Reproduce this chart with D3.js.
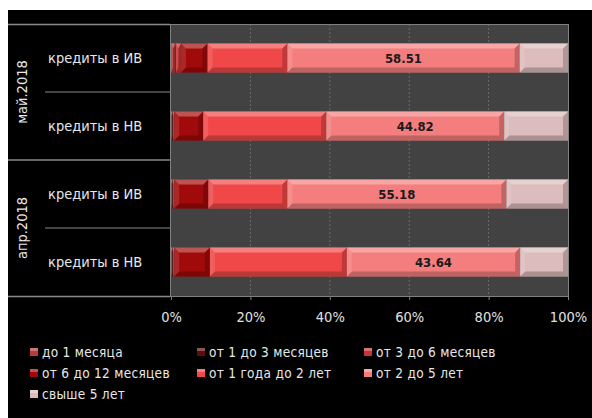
<!DOCTYPE html>
<html>
<head>
<meta charset="utf-8">
<script src="https://cdn.jsdelivr.net/npm/d3@7"></script>
<style>
  body { margin: 0; background: #fff; }
  svg { display: block; }
  text { font-family: "DejaVu Sans Condensed", "DejaVu Sans", sans-serif; }
</style>
</head>
<body>
<script>
// rows, top to bottom
var groups = ["май.2018", "апр.2018"];
var rowGroup = ["май.2018", "май.2018", "апр.2018", "апр.2018"];
var rowLabels = ["кредиты в ИВ", "кредиты в НВ", "кредиты в ИВ", "кредиты в НВ"];
var series = ["до 1 месяца", "от 1 до 3 месяцев", "от 3 до 6 месяцев",
              "от 6 до 12 месяцев", "от 1 года до 2 лет", "от 2 до 5 лет", "свыше 5 лет"];
var colors = ["#b83a3a", "#5e0c0c", "#c83434", "#a10a0a", "#f04848", "#f47e7e", "#dcbcbc"];

// shares by series, one value per row
var v1m   = [1.0, 0.3, 0.3, 0.3];
var v3m   = [0.2, 0.2, 0.2, 0.2];
var v6m   = [1.3, 0.3, 0.3, 0.3];
var v12m  = [6.7, 7.3, 8.6, 9.0];
var v2y   = [20.1, 31.0, 19.9, 34.5];
var v5y   = [58.51, 44.82, 55.18, 43.64];
var vOver = [12.19, 16.08, 15.52, 12.06];
var values = [v1m, v3m, v6m, v12m, v2y, v5y, vOver];
var labelSeries = 5; // only "от 2 до 5 лет" is labelled

var ticks = [0, 20, 40, 60, 80, 100];

var W = 592, H = 418;
var svg = d3.select("body").append("svg").attr("width", W).attr("height", H);

// black panel
svg.append("rect").attr("x", 8).attr("y", 10).attr("width", W - 8).attr("height", H - 10).attr("fill", "#000");

var plot = {left: 170, right: 568, top: 24, bottom: 296};

var x = d3.scaleLinear().domain([0, 100]).range([plot.left + 1, plot.right]);
var y = d3.scaleBand().domain(d3.range(rowLabels.length)).range([plot.top, plot.bottom]).paddingInner(0.57).paddingOuter(0.285);
var rowBand = d3.scaleBand().domain(d3.range(rowLabels.length)).range([plot.top, plot.bottom]);

// plot background
svg.append("rect").attr("x", plot.left).attr("y", plot.top)
  .attr("width", plot.right - plot.left).attr("height", plot.bottom - plot.top)
  .attr("fill", "#424242");

// grid
svg.append("g").selectAll("line").data(ticks.slice(1, -1)).enter().append("line")
  .attr("x1", d => x(d)).attr("x2", d => x(d))
  .attr("y1", plot.top).attr("y2", plot.bottom)
  .attr("stroke", "#6a6a6a").attr("stroke-width", 1).attr("stroke-dasharray", "2,2");

// plot border
svg.append("rect").attr("x", plot.left + 0.5).attr("y", plot.top + 0.5)
  .attr("width", plot.right - plot.left).attr("height", plot.bottom - plot.top)
  .attr("fill", "none").attr("stroke", "#808080");

// left label table lines
var lineCol = "#8a8a8a";
svg.append("line").attr("x1", 8).attr("x2", plot.left).attr("y1", plot.top + 0.5).attr("y2", plot.top + 0.5).attr("stroke", lineCol).attr("stroke-width", 1.5);
svg.append("line").attr("x1", 8).attr("x2", plot.left).attr("y1", plot.bottom + 0.5).attr("y2", plot.bottom + 0.5).attr("stroke", lineCol).attr("stroke-width", 1.5);
svg.append("line").attr("x1", 8).attr("x2", plot.left).attr("y1", rowBand(2)).attr("y2", rowBand(2)).attr("stroke", lineCol).attr("stroke-width", 1.5);
[1, 3].forEach(function(i) {
  svg.append("line").attr("x1", 45).attr("x2", plot.left).attr("y1", rowBand(i)).attr("y2", rowBand(i)).attr("stroke", lineCol);
});

// row labels
svg.append("g").selectAll("text").data(rowLabels).enter().append("text")
  .attr("x", 48).attr("y", (d, i) => rowBand(i) + rowBand.bandwidth() / 2)
  .attr("dy", "0.35em").attr("fill", "#e8e8e8").attr("font-size", 14.5)
  .text(d => d);

// group labels
groups.forEach(function(g) {
  var idx = d3.range(rowGroup.length).filter(i => rowGroup[i] === g);
  var cy = (rowBand(idx[0]) + rowBand(idx[idx.length - 1]) + rowBand.bandwidth()) / 2;
  svg.append("text").attr("transform", "translate(22," + cy + ") rotate(-90)")
    .attr("text-anchor", "middle").attr("dy", "0.35em")
    .attr("fill", "#e8e8e8").attr("font-size", 14.5).text(g);
});

// stacked bars with bevel
var stackData = rowLabels.map(function(r, i) {
  var o = {row: i};
  series.forEach(function(s, k) { o[s] = values[k][i]; });
  return o;
});
var stacked = d3.stack().keys(series)(stackData);
var bev = 5;

var layers = svg.append("g").selectAll("g").data(stacked).enter().append("g");
layers.each(function(layer, k) {
  var g = d3.select(this);
  layer.forEach(function(d, i) {
    var x0 = x(d[0]), x1 = x(d[1]), y0 = y(i), y1 = y(i) + y.bandwidth();
    var w = x1 - x0;
    if (w <= 0) return;
    var b = Math.min(bev, w / 2);
    g.append("rect").attr("x", x0).attr("y", y0).attr("width", w).attr("height", y1 - y0).attr("fill", colors[k]);
    g.append("polygon").attr("points", [[x0, y0], [x1, y0], [x1 - b, y0 + bev], [x0 + b, y0 + bev]].join(" "))
      .attr("fill", "#fff").attr("opacity", 0.3);
    g.append("polygon").attr("points", [[x0, y1], [x1, y1], [x1 - b, y1 - bev], [x0 + b, y1 - bev]].join(" "))
      .attr("fill", "#000").attr("opacity", 0.22);
    g.append("polygon").attr("points", [[x0, y0], [x0 + b, y0 + bev], [x0 + b, y1 - bev], [x0, y1]].join(" "))
      .attr("fill", "#fff").attr("opacity", 0.12);
    g.append("polygon").attr("points", [[x1, y0], [x1 - b, y0 + bev], [x1 - b, y1 - bev], [x1, y1]].join(" "))
      .attr("fill", "#000").attr("opacity", 0.2);
  });
});

// value labels
svg.append("g").selectAll("text").data(stacked[labelSeries]).enter().append("text")
  .attr("x", d => (x(d[0]) + x(d[1])) / 2)
  .attr("y", (d, i) => y(i) + y.bandwidth() / 2)
  .attr("dy", "0.36em").attr("text-anchor", "middle")
  .attr("fill", "#1a1a1a").attr("font-size", 13).attr("font-weight", "bold")
  .text(d => (d[1] - d[0]).toFixed(2));

// x axis
var axis = svg.append("g").attr("transform", "translate(0," + plot.bottom + ")")
  .call(d3.axisBottom(x).tickValues(ticks).tickFormat(d => d + "%").tickSize(4).tickPadding(12));
axis.select(".domain").remove();
axis.selectAll("line").attr("stroke", "#808080");
axis.selectAll("text").attr("fill", "#e0e0e0").attr("font-size", 14.5)
  .style("font-family", "'DejaVu Sans Condensed', sans-serif");

// legend
var legCols = [30, 197, 364];
var legRows = [352, 373, 394];
var leg = svg.append("g").selectAll("g").data(series).enter().append("g")
  .attr("transform", (d, i) => "translate(" + legCols[i % 3] + "," + legRows[Math.floor(i / 3)] + ")");
leg.append("rect").attr("x", 0).attr("y", -4).attr("width", 8).attr("height", 8)
  .attr("fill", (d, i) => colors[i]);
leg.append("rect").attr("x", 0).attr("y", -4).attr("width", 8).attr("height", 3)
  .attr("fill", "#fff").attr("opacity", 0.3);
leg.append("text").attr("x", 12).attr("dy", "0.35em").attr("fill", "#e8e8e8")
  .attr("font-size", 13.5).attr("letter-spacing", 0.3).text(d => d);
</script>
</body>
</html>
